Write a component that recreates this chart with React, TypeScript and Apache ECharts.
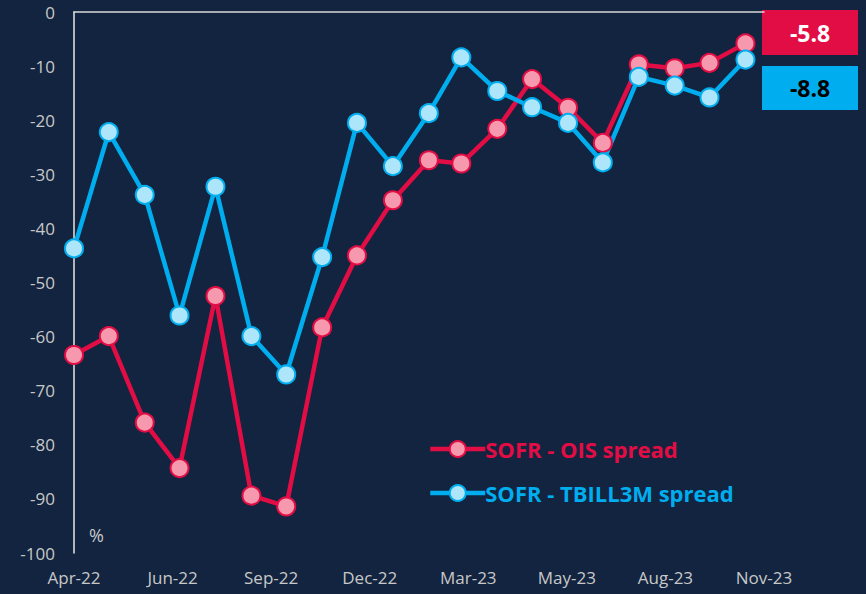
import React, { useEffect, useRef } from "react";
import * as echarts from "echarts";

// Monthly observation dates (first of month)
const months = [
  "2022-04", "2022-05", "2022-06", "2022-07", "2022-08", "2022-09", "2022-10",
  "2022-11", "2022-12", "2023-01", "2023-02", "2023-03", "2023-04", "2023-05",
  "2023-06", "2023-07", "2023-08", "2023-09", "2023-10", "2023-11",
];

const sofrOis = [
  -63.4, -59.9, -75.9, -84.3, -52.5, -89.4, -91.4, -58.3, -45.0, -34.8,
  -27.4, -28.0, -21.6, -12.4, -17.7, -24.2, -9.7, -10.4, -9.4, -5.8,
];

const sofrTbill = [
  -43.7, -22.2, -33.8, -56.1, -32.3, -59.9, -67.0, -45.3, -20.5, -28.5,
  -18.7, -8.4, -14.6, -17.6, -20.5, -27.8, -12.0, -13.6, -15.8, -8.8,
];

// x tick labels, every 85 days from 1 Apr 2022
const xTickLabels = ["Apr-22", "Jun-22", "Sep-22", "Dec-22", "Mar-23", "May-23", "Aug-23", "Nov-23"];
const xTickDays = 85;

const seriesNames = ["SOFR - OIS spread", "SOFR - TBILL3M spread"];

const BG = "#12243f";
const RED = "#e30d45";
const RED_FILL = "#f799ae";
const BLUE = "#00aeef";
const BLUE_FILL = "#ade6fb";
const FONT = "'Open Sans', sans-serif";

const startDate = new Date(Date.UTC(2022, 3, 1));
const dayOffset = (ym: string) => {
  const [y, m] = ym.split("-").map(Number);
  return Math.round((Date.UTC(y, m - 1, 1) - startDate.getTime()) / 86400000);
};

export default function App() {
  const ref = useRef<HTMLDivElement>(null);

  useEffect(() => {
    if (!ref.current) return;
    const chart = echarts.init(ref.current, undefined, { renderer: "svg" });
    const xs = months.map(dayOffset);
    const xMax = xTickDays * (xTickLabels.length - 1);
    const lastOis = sofrOis[sofrOis.length - 1];
    const lastTb = sofrTbill[sofrTbill.length - 1];

    const mkSeries = (name: string, data: number[], line: string, fill: string) => ({
      name,
      type: "line",
      xAxisIndex: 0,
      data: data.map((v, i) => [xs[i], v]),
      symbol: "circle",
      symbolSize: 18,
      lineStyle: { color: line, width: 4.5 },
      itemStyle: { color: fill, borderColor: line, borderWidth: 2 },
      emphasis: { disabled: true },
    });

    chart.setOption({
      animation: false,
      backgroundColor: BG,
      grid: { left: 74, right: 102, top: 12, bottom: 41 },
      xAxis: [
        {
          type: "value",
          position: "bottom",
          min: 0,
          max: xMax,
          interval: xTickDays,
          axisLine: { show: false },
          axisTick: { show: false },
          splitLine: { show: false },
          axisLabel: {
            color: "#c8c8c8",
            fontFamily: FONT,
            fontSize: 17,
            margin: 16,
            showMinLabel: true,
            showMaxLabel: true,
            formatter: (v: number) => xTickLabels[Math.round(v / xTickDays)] ?? "",
          },
        },
        {
          type: "value",
          position: "top",
          min: 0,
          max: xMax,
          interval: xTickDays,
          axisLine: { show: true, onZero: false, lineStyle: { color: "#d9d9d9", width: 1.5 } },
          axisTick: { show: false },
          axisLabel: { show: false },
          splitLine: { show: false },
        },
      ],
      yAxis: {
        type: "value",
        min: -100,
        max: 0,
        interval: 10,
        axisLine: { show: true, onZero: false, lineStyle: { color: "#e6e6e6", width: 1.5 } },
        axisTick: { show: false },
        splitLine: { show: false },
        axisLabel: {
          color: "#c8c8c8",
          fontFamily: FONT,
          fontSize: 17,
          margin: 19,
        },
      },
      legend: {
        orient: "vertical",
        left: 423,
        top: 433,
        itemWidth: 55,
        itemHeight: 20,
        itemGap: 22,
        lineStyle: { width: 4.5 },
        data: [
          { name: seriesNames[0], textStyle: { color: RED } },
          { name: seriesNames[1], textStyle: { color: BLUE } },
        ],
        textStyle: { fontFamily: FONT, fontSize: 22, fontWeight: "bold", padding: [0, 0, 0, -5] },
      },
      series: [
        mkSeries(seriesNames[0], sofrOis, RED, RED_FILL),
        mkSeries(seriesNames[1], sofrTbill, BLUE, BLUE_FILL),
      ],
      graphic: [
        {
          type: "text",
          left: 89,
          top: 526,
          style: { text: "%", fill: "#c8c8c8", font: `18px ${FONT}` },
        },
        {
          type: "group",
          left: 762,
          top: 10,
          children: [
            { type: "rect", shape: { x: 0, y: 0, width: 96, height: 45 }, style: { fill: RED } },
            {
              type: "text",
              x: 48,
              y: 22.5,
              style: {
                text: lastOis.toFixed(1),
                fill: "#ffffff",
                font: `bold 23px ${FONT}`,
                align: "center",
                verticalAlign: "middle",
              },
            },
          ],
        },
        {
          type: "group",
          left: 762,
          top: 66,
          children: [
            { type: "rect", shape: { x: 0, y: 0, width: 96, height: 44 }, style: { fill: BLUE } },
            {
              type: "text",
              x: 48,
              y: 22,
              style: {
                text: lastTb.toFixed(1),
                fill: "#000000",
                font: `bold 23px ${FONT}`,
                align: "center",
                verticalAlign: "middle",
              },
            },
          ],
        },
      ],
    });
    return () => chart.dispose();
  }, []);

  return (
    <div
      ref={ref}
      style={{ position: "fixed", left: 0, top: 0, width: 866, height: 594, background: BG }}
    />
  );
}
